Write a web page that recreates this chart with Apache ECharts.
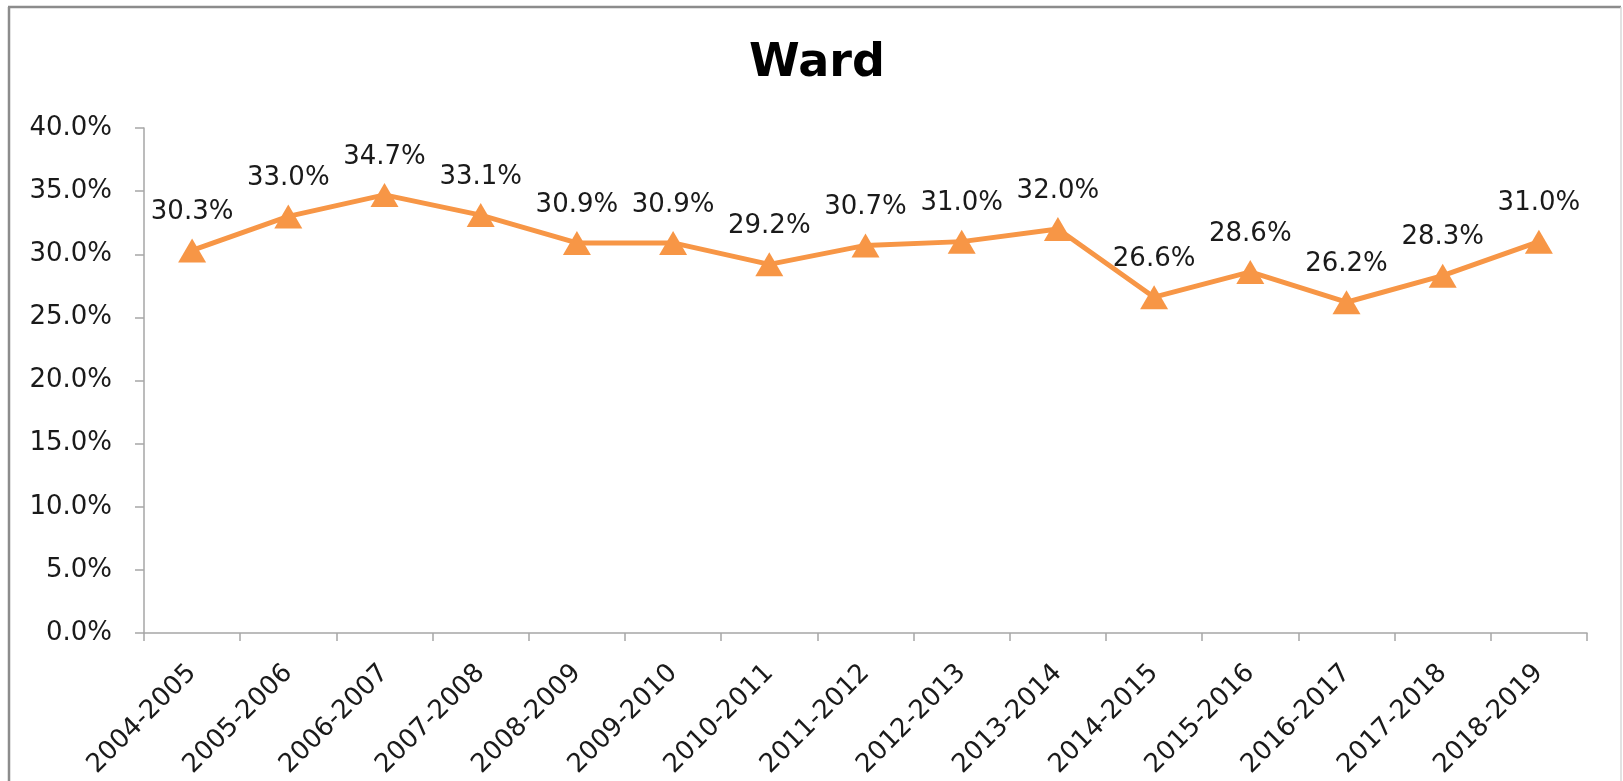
<!DOCTYPE html>
<html>
<head>
<meta charset="utf-8">
<script src="https://cdn.jsdelivr.net/npm/echarts@6/dist/echarts.min.js"></script>
<style>
    html, body { margin: 0; padding: 0; background: #fff; }
    #chart { width: 1623px; height: 781px; }
</style>
</head>
<body>
<div id="chart"></div>
<script>
// 数据
const seasons = ['2004-2005', '2005-2006', '2006-2007', '2007-2008', '2008-2009',
    '2009-2010', '2010-2011', '2011-2012', '2012-2013', '2013-2014',
    '2014-2015', '2015-2016', '2016-2017', '2017-2018', '2018-2019'];
const wardValues = [30.3, 33.0, 34.7, 33.1, 30.9, 30.9, 29.2, 30.7, 31.0, 32.0,
    26.6, 28.6, 26.2, 28.3, 31.0];

const font = '"DejaVu Sans", Verdana, sans-serif';
const axisGray = '#a6a6a6';
const labelSize = 26;

const chart = echarts.init(document.getElementById('chart'));

const option = {
    backgroundColor: '#ffffff',
    animation: false,
    title: {
        text: 'Ward',
        left: 812,
        top: 36,
        textAlign: 'center',
        textStyle: {
            fontFamily: font,
            fontSize: 46,
            fontWeight: 'bold',
            color: '#000'
        }
    },
    // 外框
    graphic: [
        { type: 'line', shape: { x1: 8, y1: 7, x2: 1621, y2: 7 }, style: { stroke: '#8c8c8c', lineWidth: 2.5 } },
        { type: 'line', shape: { x1: 9, y1: 7, x2: 9, y2: 781 }, style: { stroke: '#8c8c8c', lineWidth: 2.5 } },
        { type: 'line', shape: { x1: 1621, y1: 7, x2: 1621, y2: 781 }, style: { stroke: '#d9d9d9', lineWidth: 1.5 } }
    ],
    grid: {
        left: 144,
        right: 36,
        top: 128,
        bottom: 148
    },
    xAxis: {
        type: 'category',
        data: seasons,
        boundaryGap: true,
        axisLine: { lineStyle: { color: axisGray, width: 1.5 } },
        axisTick: { show: true, length: 8, lineStyle: { color: axisGray, width: 1.5 } },
        axisLabel: {
            interval: 0,
            rotate: 45,
            margin: 36,
            fontFamily: font,
            fontSize: labelSize,
            color: '#1a1a1a'
        }
    },
    yAxis: {
        type: 'value',
        min: 0,
        max: 40,
        interval: 5,
        splitLine: { show: false },
        axisLine: { show: true, lineStyle: { color: axisGray, width: 1.5 } },
        axisTick: { show: true, length: 9, lineStyle: { color: axisGray, width: 1.5 } },
        axisLabel: {
            margin: 32,
            fontFamily: font,
            fontSize: labelSize,
            color: '#1a1a1a',
            formatter: v => v.toFixed(1) + '%'
        }
    },
    series: [{
        type: 'line',
        data: wardValues,
        symbol: 'triangle',
        symbolSize: [28, 24],
        lineStyle: { color: '#f79646', width: 5 },
        itemStyle: { color: '#f79646' },
        label: {
            show: true,
            position: 'top',
            distance: 13,
            fontFamily: font,
            fontSize: labelSize,
            color: '#1a1a1a',
            formatter: p => p.value.toFixed(1) + '%'
        }
    }]
};

chart.setOption(option);
</script>
</body>
</html>
